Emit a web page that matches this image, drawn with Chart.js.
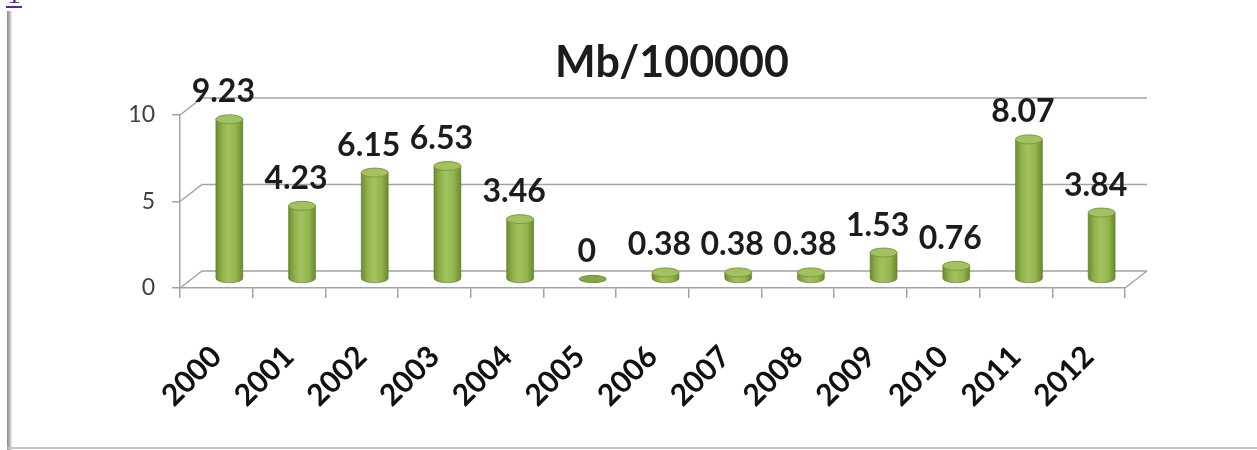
<!DOCTYPE html>
<html>
<head>
<meta charset="utf-8">
<script src="https://cdn.jsdelivr.net/npm/chart.js@4"></script>
<style>
  html, body { margin: 0; padding: 0; background: #fff; }
  canvas { display: block; }
</style>
</head>
<body>
<canvas id="chart" width="1257" height="450"></canvas>
<script>
// Incidence per 100 000, by year
const years = ['2000', '2001', '2002', '2003', '2004', '2005', '2006', '2007', '2008', '2009', '2010', '2011', '2012'];
const rates = [9.23, 4.23, 6.15, 6.53, 3.46, 0, 0.38, 0.38, 0.38, 1.53, 0.76, 8.07, 3.84];
const rateLabels = ['9.23', '4.23', '6.15', '6.53', '3.46', '0', '0.38', '0.38', '0.38', '1.53', '0.76', '8.07', '3.84'];
const yTicks = [0, 5, 10];
const titleText = 'Mb/100000';

// perspective offsets for the box walls and the cylinders
const wallDx = 22, wallDy = -17;
const barDx = 13, barDy = -9;
const lineGray = '#a3a3a3';

// back wall, side wall and floor edges
const wallPlugin = {
  id: 'wall',
  beforeDatasetsDraw(chart) {
    const { ctx, chartArea: a, scales: { y } } = chart;
    ctx.save();
    ctx.strokeStyle = lineGray;
    ctx.lineWidth = 1.5;
    yTicks.forEach(v => {
      const py = y.getPixelForValue(v);
      ctx.beginPath();
      ctx.moveTo(a.left, py);
      ctx.lineTo(a.left + wallDx, py + wallDy);
      ctx.lineTo(a.right + wallDx, py + wallDy);
      ctx.stroke();
    });
    ctx.beginPath();
    ctx.moveTo(a.right, a.bottom);
    ctx.lineTo(a.right + wallDx, a.bottom + wallDy);
    ctx.stroke();
    ctx.restore();
  }
};

// cylinders drawn on the bar elements' geometry, then the value labels
const cylinderPlugin = {
  id: 'cylinders',
  afterDatasetsDraw(chart) {
    const ctx = chart.ctx;
    const meta = chart.getDatasetMeta(0);
    ctx.save();
    meta.data.forEach((el, i) => {
      const p = el.getProps(['x', 'y', 'base', 'width'], true);
      const cx = p.x + barDx;
      const top = p.y + barDy;
      const bot = p.base + barDy;
      const rx = p.width / 2;
      const ry = 4.5;
      if (bot - top > 0.5) {
        const g = ctx.createLinearGradient(cx - rx, 0, cx + rx, 0);
        g.addColorStop(0, '#6c8c30');
        g.addColorStop(0.22, '#8fb04a');
        g.addColorStop(0.45, '#a3c361');
        g.addColorStop(0.75, '#93b44e');
        g.addColorStop(1, '#698a2e');
        ctx.beginPath();
        ctx.moveTo(cx - rx, top);
        ctx.lineTo(cx - rx, bot);
        ctx.ellipse(cx, bot, rx, ry, 0, Math.PI, 0, true);
        ctx.lineTo(cx + rx, top);
        ctx.closePath();
        ctx.fillStyle = g;
        ctx.fill();
        ctx.strokeStyle = 'rgba(95,125,40,0.6)';
        ctx.lineWidth = 1;
        ctx.stroke();
        ctx.beginPath();
        ctx.ellipse(cx, top, rx, ry, 0, 0, Math.PI * 2);
        ctx.fillStyle = '#a2c262';
        ctx.fill();
        ctx.strokeStyle = '#7b9a3e';
        ctx.stroke();
      } else {
        ctx.beginPath();
        ctx.ellipse(cx, bot, rx, ry * 0.8, 0, 0, Math.PI * 2);
        ctx.fillStyle = '#86a743';
        ctx.fill();
        ctx.strokeStyle = '#6f8f33';
        ctx.lineWidth = 1;
        ctx.stroke();
      }
    });
    ctx.fillStyle = '#1c1c1c';
    ctx.font = 'bold 32px Lato';
    ctx.textAlign = 'center';
    ctx.textBaseline = 'alphabetic';
    meta.data.forEach((el, i) => {
      const p = el.getProps(['x', 'y'], true);
      ctx.fillText(rateLabels[i], p.x + 7, p.y - 26);
    });
    ctx.restore();
  }
};

// title and page frame
const framePlugin = {
  id: 'frame',
  afterDraw(chart) {
    const ctx = chart.ctx;
    ctx.save();
    ctx.fillStyle = '#1c1c1c';
    ctx.font = 'bold 43px Lato';
    ctx.textAlign = 'center';
    ctx.textBaseline = 'alphabetic';
    ctx.fillText(titleText, 672, 77);

    const lg = ctx.createLinearGradient(7, 0, 12, 0);
    lg.addColorStop(0, '#8a8a8a');
    lg.addColorStop(0.5, '#b5b5b5');
    lg.addColorStop(1, '#f2f2f2');
    ctx.fillStyle = lg;
    ctx.fillRect(7, 11, 5, 439);
    ctx.fillStyle = '#c4c4c4';
    ctx.fillRect(7, 447, 1250, 2);

    ctx.fillStyle = '#5b2a8f';
    ctx.font = '28px "Liberation Serif"';
    ctx.textAlign = 'center';
    ctx.fillText('1', 14, 3);
    ctx.fillRect(6, 6, 16, 2);
    ctx.restore();
  }
};

new Chart(document.getElementById('chart'), {
  type: 'bar',
  data: {
    labels: years,
    datasets: [{
      data: rates,
      backgroundColor: 'rgba(0,0,0,0)',
      borderWidth: 0,
      barPercentage: 0.37,
      categoryPercentage: 1
    }]
  },
  options: {
    responsive: false,
    animation: false,
    events: [],
    devicePixelRatio: 1,
    layout: { padding: { left: 0, right: 132, top: 115, bottom: 0 } },
    plugins: {
      legend: { display: false },
      title: { display: false },
      tooltip: { enabled: false }
    },
    scales: {
      x: {
        afterFit(s) { s.height = 162; },
        grid: { offset: true, drawOnChartArea: false, tickLength: 10, color: lineGray, lineWidth: 1.5 },
        border: { display: true, color: lineGray, width: 1.5 },
        ticks: {
          autoSkip: false,
          minRotation: 45,
          maxRotation: 45,
          padding: 41,
          color: '#111',
          font: { family: 'Lato', weight: 'bold', size: 30 }
        }
      },
      y: {
        min: 0,
        max: 10,
        afterFit(s) { s.width = 180; },
        afterBuildTicks(s) { s.ticks = yTicks.map(v => ({ value: v })); },
        grid: { drawOnChartArea: false, tickLength: 8, color: lineGray, lineWidth: 1.5 },
        border: { display: true, color: lineGray, width: 1.5 },
        ticks: {
          padding: 17,
          color: '#404040',
          font: { family: 'Lato', size: 23 }
        }
      }
    }
  },
  plugins: [wallPlugin, cylinderPlugin, framePlugin]
});
</script>
</body>
</html>
